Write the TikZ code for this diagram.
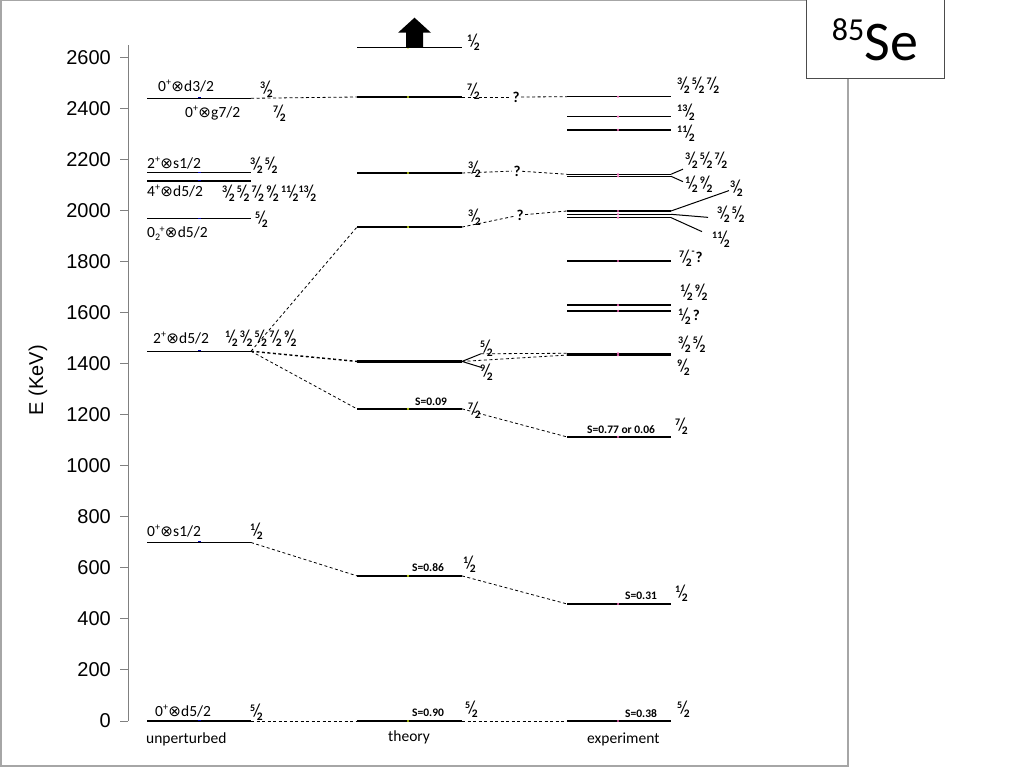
\documentclass[tikz,border=0pt]{standalone}
\usepackage{fontspec}
\setmainfont{Carlito}
\newfontfamily\axisfont{Liberation Sans}
\newfontfamily\symfont{DejaVu Sans}
\usetikzlibrary{calc}

% spin label j/2
\newcommand\jfrac[1]{\raisebox{4.6pt}{\fontsize{10}{10}\selectfont\bfseries#1}\kern-2pt{\fontsize{18}{18}\selectfont/}\kern-3.4pt\raisebox{-3.8pt}{\fontsize{11.5}{11.5}\selectfont\bfseries2}}
% coupling sign and parity
\newcommand\cpl{{\symfont\fontsize{15}{15}\selectfont\kern0.3pt⊗\kern0.3pt}}
\newcommand\pplus{\raisebox{5.5pt}{\fontsize{10}{10}\selectfont +}}

\begin{document}
\begin{tikzpicture}[x=1pt,y=1pt,
  lvl/.style={line width=1.4pt},
  con/.style={line width=0.8pt,dash pattern=on 3pt off 2.5pt},
  fork/.style={line width=1pt},
  lab/.style={inner sep=0pt,anchor=west,font=\fontsize{15.5}{15.5}\selectfont},
  spin/.style={inner sep=0pt,anchor=west},
  sval/.style={inner sep=0pt,anchor=west,font=\fontsize{11.5}{11.5}\selectfont\bfseries},
  qm/.style={inner sep=1.5pt,font=\fontsize{15}{15}\selectfont\bfseries}]
%
\useasboundingbox (0,0) rectangle (1024,768);
%
% frame and title box
\draw[gray!70,line width=1.5pt] (1,2) rectangle (848,768);
\node[draw=gray!60!black,line width=1pt,fill=white,minimum width=138pt,minimum height=79pt,inner sep=0pt] (title) at (875,728.5)
  {\raisebox{20pt}{\fontsize{32}{32}\selectfont 85}\fontsize{56}{56}\selectfont Se};
%
%''''''''''''''''''''''''''''column positions''''''''''''''''''''''''''''''''''''''''''''''''''''''''''
\def\xU{147}
\def\xT{357}
\def\xE{567}
\def\lw{104}
%''''''''''''''''''''''''''''''''''''''''''''''''''''''''''''''''''''''''''''''''''''''''''''''''''''''''
%
\begin{scope}[yshift=47pt,y=0.255pt]% y in keV
%
% energy axis
\draw[gray,line width=1pt] (128,0) coordinate (a0) -- (128,2650) coordinate (a1);
\foreach \e in {0,200,...,2600}{
  \draw[gray,line width=1pt] (120,\e) -- (128,\e);
  \node[anchor=east,inner sep=0pt,font=\axisfont\fontsize{20}{20}\selectfont] (tick\e) at (111,\e) {\e};
}
\node[rotate=90,font=\axisfont\fontsize{20}{20}\selectfont] (elabel) at (38,1337) {E (KeV)};
%
% unperturbed levels
\foreach \n/\e in {u0/0,u1/700,u2/1450,u3/1970,u4/2118,u5/2150,u6/2442}{
  \draw[lvl] (\xU,\e) coordinate (\n-l) -- ++(\lw,0) coordinate (\n-r);
  \fill[blue!70!black] (\xU+51,\e) rectangle ++(3,4);
}
% theory levels
\foreach \n/\e in {t0/0,t1/569,t2/1224,t3/1410,t4/1937,t5/2149,t6/2447,t7/2640}{
  \draw[lvl] (\xT,\e) coordinate (\n-l) -- ++(\lw+1,0) coordinate (\n-r);
  \fill[yellow!80!green] (\xT+51,\e) circle (1.2pt);
}
\draw[line width=2.3pt] (t3-l) -- (t3-r);
% experiment levels
\foreach \n/\e in {e0/0,e1/459,e2/1114,e3a/1442,e3b/1435,e4a/1631,e4b/1608,e5/1804,e6a/2000,e6b/1987,e6c/1974,e7a/2144,e7b/2136,e8/2318,e9/2370,e10/2448}{
  \draw[lvl] (\xE,\e) coordinate (\n-l) -- ++(\lw,0) coordinate (\n-r);
  \fill[magenta!60] (\xE+51,\e) circle (1.2pt);
}
%
% arrow above highest theory level
\fill (t7-l) ++(49,0) -- ++(0,59) -- ++(-8,0) -- ++(16.5,59) -- ++(16.5,-59) -- ++(-8,0) -- ++(0,-59) -- cycle;
%
% level labels
\node[lab] (u0-n) at (155,39) {0\pplus\cpl d5/2};
\node[lab] (u1-n) at (147,745) {0\pplus\cpl s1/2};
\node[lab] (u2-n) at (153,1502) {2\pplus\cpl d5/2};
\node[lab] (u3-n) at (147,1910) {0\raisebox{-3pt}{\fontsize{10}{10}\selectfont 2}\kern-0.5pt\pplus\cpl d5/2};
\node[lab] (u4-n) at (147,2078) {4\pplus\cpl d5/2};
\node[lab] (u5-n) at (147,2188) {2\pplus\cpl s1/2};
\node[lab] (u6-n) at (158,2490) {0\pplus\cpl d3/2};
\node[lab] (u6-m) at (185,2384) {0\pplus\cpl g7/2};
\node[lab] (colU) at (146,-71) {unperturbed};
\node[lab] (colT) at (388,-63) {theory};
\node[lab] (colE) at (587,-71) {experiment};
%
% spins, unperturbed
\node[spin] (u0-s) at (250,35) {\jfrac{5}};
\node[spin] (u1-s) at (250,745) {\jfrac{1}};
\node[spin] (u2-s) at (225,1502) {\jfrac{1} \jfrac{3} \jfrac{5} \jfrac{7} \jfrac{9}};
\node[spin] (u3-s) at (255,1969) {\jfrac{5}};
\node[spin] (u4-s) at (222,2071) {\jfrac{3} \jfrac{5} \jfrac{7} \jfrac{9} \jfrac{11}\jfrac{13}};
\node[spin] (u5-s) at (250,2180) {\jfrac{3} \jfrac{5}};
\node[spin] (u6-s) at (260,2478) {\jfrac{3}};
\node[spin] (u6-t) at (273,2384) {\jfrac{7}};
%
% spins, theory
\node[spin] (t0-s) at (465,47) {\jfrac{5}};
\node[spin] (t1-s) at (463,616) {\jfrac{1}};
\node[spin] (t2-s) at (468,1220) {\jfrac{7}};
\node[spin] (t3-s) at (480,1463) {\jfrac{5}};
\node[spin] (t3-t) at (480,1369) {\jfrac{9}};
\node[spin] (t4-s) at (468,1976) {\jfrac{3}};
\node[spin] (t5-s) at (468,2165) {\jfrac{3}};
\node[spin] (t6-s) at (467,2470) {\jfrac{7}};
\node[spin] (t7-s) at (467,2662) {\jfrac{1}};
%
% spins, experiment
\node[spin] (e0-s) at (677,47) {\jfrac{5}};
\node[spin] (e1-s) at (675,502) {\jfrac{1}};
\node[spin] (e2-s) at (675,1157) {\jfrac{7}};
\node[spin] (e3-s) at (678,1478) {\jfrac{3} \jfrac{5}};
\node[spin] (e3-t) at (677,1388) {\jfrac{9}};
\node[spin] (e4-s) at (680,1682) {\jfrac{1} \jfrac{9}};
\node[spin] (e4-t) at (678,1588) {\jfrac{1} {\fontsize{15}{15}\selectfont\bfseries ?}};
\node[spin] (e5-s) at (679,1816) {\jfrac{7}\raisebox{8pt}{\bfseries -}\kern1pt{\fontsize{15}{15}\selectfont\bfseries ?}};
\node[spin] (e6-s) at (730,2090) {\jfrac{3}};
\node[spin] (e6-t) at (717,1988) {\jfrac{3} \jfrac{5}};
\node[spin] (e6-u) at (712,1890) {\jfrac{11}};
\node[spin] (e7-s) at (685,2200) {\jfrac{3} \jfrac{5} \jfrac{7}};
\node[spin] (e7-t) at (685,2106) {\jfrac{1} \jfrac{9}};
\node[spin] (e8-s) at (677,2306) {\jfrac{11}};
\node[spin] (e9-s) at (677,2388) {\jfrac{13}};
\node[spin] (e10-s) at (677,2494) {\jfrac{3} \jfrac{5} \jfrac{7}};
%
% spectroscopic factors
\node[sval] (t0-f) at (412,31) {S=0.90};
\node[sval] (t1-f) at (412,600) {S=0.86};
\node[sval] (t2-f) at (415,1253) {S=0.09};
\node[sval] (e0-f) at (625,31) {S=0.38};
\node[sval] (e1-f) at (625,490) {S=0.31};
\node[sval] (e2-f) at (587,1141) {S=0.77 or 0.06};
%
% question marks
\node[qm] (q6) at (516,2447) {?};
\node[qm] (q5) at (517,2157) {?};
\node[qm] (q4) at (520,1984) {?};
%
% dashed connections
\draw[con] (u0-r) -- (t0-l);
\draw[con] (t0-r) -- (e0-l);
\draw[con] (u1-r) -- (t1-l);
\draw[con] (t1-r) -- (e1-l);
\draw[con] (u2-r) -- (t4-l);
\draw[con,line width=1.4pt] (u2-r) -- (t3-l);
\draw[con] (u2-r) -- (t2-l);
\draw[con] (t2-r) -- (e2-l);
\draw[con] (u6-r) -- (t6-l);
\draw[con] (t6-r) -- (q6);
\draw[con] (q6) -- (e10-l);
\draw[con] (t5-r) -- (q5);
\draw[con] (q5) -- (e7a-l);
\draw[con] (t4-r) -- (q4);
\draw[con] (q4) -- (e6a-l);
%
% forks
\draw[fork] (t3-r) -- (481,1440) coordinate (t3-a);
\draw[fork] (t3-r) -- (481,1387) coordinate (t3-b);
\draw[con] (t3-a) -- (e3a-l);
\draw[con] (t3-r) -- (e3b-l);
\draw[fork] (e7a-r) -- (683,2164) coordinate (e7-a);
\draw[fork] (e7b-r) -- (683,2115) coordinate (e7-b);
\draw[fork] (e6a-r) -- (729,2080) coordinate (e6-a);
\draw[fork] (e6b-r) -- (708,1975) coordinate (e6-b);
\draw[fork] (e6c-r) -- (702,1919) coordinate (e6-c);
%
\end{scope}
%
\end{tikzpicture}
\end{document}
